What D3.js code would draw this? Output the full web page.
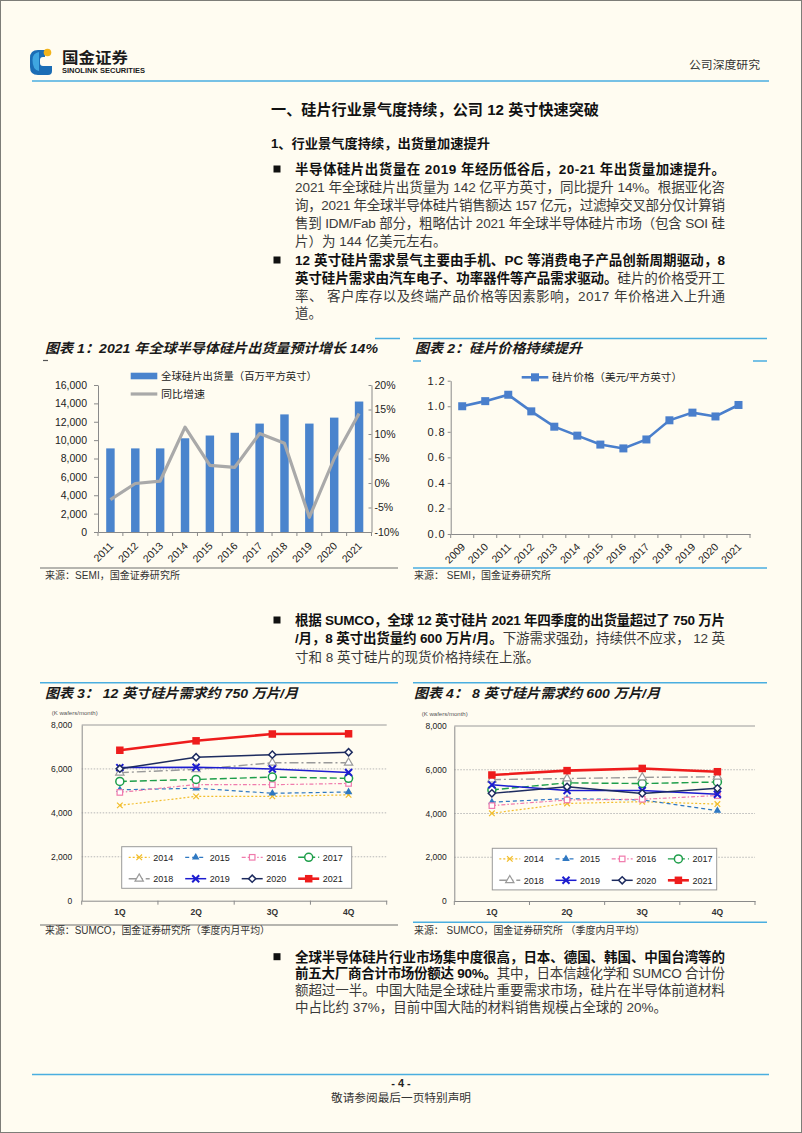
<!DOCTYPE html>
<html><head><meta charset="utf-8">
<script src="https://cdn.jsdelivr.net/npm/d3@7"></script>
<style>
body{margin:0;background:#fffcf1;}
svg{display:block;}
text{font-family:"Liberation Sans","Noto Sans CJK SC",sans-serif;}
</style></head><body>
<svg id="page" width="802" height="1133"></svg>
<script>
// ---------------- DATA ----------------
const years1 = ["2011","2012","2013","2014","2015","2016","2017","2018","2019","2020","2021"];
const shipments = [9100,9100,9100,10200,10500,10800,11800,12800,11800,12450,14200];
const growthPct = [-3.4,-0.1,0.4,11.4,3.6,3.2,10.1,8.1,-7.0,5.0,14.2];
const leftTicks1 = [0,2000,4000,6000,8000,10000,12000,14000,16000];
const rightTicks1 = [-10,-5,0,5,10,15,20];

const years2 = ["2009","2010","2011","2012","2013","2014","2015","2016","2017","2018","2019","2020","2021"];
const price = [1.00,1.04,1.09,0.96,0.84,0.77,0.70,0.67,0.74,0.89,0.95,0.92,1.01];
const priceTicks = [0,0.2,0.4,0.6,0.8,1.0,1.2];

const quarters = ["1Q","2Q","3Q","4Q"];
const seriesYears = ["2014","2015","2016","2017","2018","2019","2020","2021"];
const demandTicks = [0,2000,4000,6000,8000];
// 12-inch (K wafers/month)
const w12_2014 = [4340,4750,4750,4820];
const w12_2015 = [5050,5120,4890,4950];
const w12_2016 = [4930,5290,5280,5340];
const w12_2017 = [5430,5520,5630,5570];
const w12_2018 = [5830,5980,6280,6280];
const w12_2019 = [6060,6080,6000,5840];
const w12_2020 = [6010,6530,6650,6760];
const w12_2021 = [6850,7280,7590,7600];
// 8-inch (K wafers/month)
const w8_2014 = [4010,4460,4540,4430];
const w8_2015 = [4520,4680,4620,4130];
const w8_2016 = [4360,4620,4650,4820];
const w8_2017 = [5080,5400,5370,5440];
const w8_2018 = [5550,5600,5650,5680];
const w8_2019 = [5310,5050,5050,4880];
const w8_2020 = [4920,5220,4920,5150];
const w8_2021 = [5760,5960,6060,5910];

// ---------------- PAGE ----------------
const svg = d3.select("#page");
const W = 802, H = 1133;
const CREAM = "#fffcf1", RULE = "#4aaee0";
svg.append("rect").attr("width", W).attr("height", H).attr("fill", CREAM);
svg.append("rect").attr("x", 0.5).attr("y", 0.5).attr("width", W - 1).attr("height", H - 1)
  .attr("fill", "none").attr("stroke", "#7d7d78");

function hline(x1, x2, y, color, w) {
  svg.append("line").attr("x1", x1).attr("x2", x2).attr("y1", y).attr("y2", y)
    .attr("stroke", color).attr("stroke-width", w || 1.5);
}
function txt(x, y, s, o) {
  o = o || {};
  const t = svg.append("text").attr("x", x).attr("y", y).text(s)
    .attr("font-size", o.size || 12).attr("fill", o.fill || "#222");
  if (o.weight) t.attr("font-weight", o.weight);
  if (o.style) t.attr("font-style", o.style);
  if (o.anchor) t.attr("text-anchor", o.anchor);
  if (o.len) t.attr("textLength", o.len).attr("lengthAdjust", "spacingAndGlyphs");
  return t;
}

// header
const lg = svg.append("g");
lg.append("path").attr("d", "M45,50 L38,50 Q30,50 30,58 L30,67 Q30,75 38,75 L48,75 Q52,75 52,71 L52,66 L43,66 Q40,66 40,63 L40,60 Q40,57 43,57 L45,57 Z")
  .attr("fill", "#1b6db5");
lg.append("path").attr("d", "M32.5,60 Q32.5,53 39,52 L39,71 Q32.5,70 32.5,60 Z").attr("fill", "#3fa6e0");
lg.append("circle").attr("cx", 47.5).attr("cy", 52.5).attr("r", 3.8).attr("fill", "#f2b31a");
txt(62, 63, "国金证券", {size: 15, weight: "bold", fill: "#1a1a1a", len: 66});
txt(62, 72.5, "SINOLINK SECURITIES", {size: 7, weight: "bold", fill: "#1a1a1a", len: 83});
txt(760, 69, "公司深度研究", {size: 11.5, fill: "#333", anchor: "end", len: 71});
hline(32, 769, 81, RULE, 1.6);

// footer
hline(32, 769, 1074.5, RULE, 1.6);
txt(401, 1087, "- 4 -", {size: 11, weight: "bold", fill: "#222", anchor: "middle"});
txt(401, 1102, "敬请参阅最后一页特别声明", {size: 11, fill: "#333", anchor: "middle", len: 140});

// headings
txt(271, 115, "一、硅片行业景气度持续，公司 12 英寸快速突破", {size: 15, weight: "bold", fill: "#111", len: 328});
txt(271, 147.5, "1、行业景气度持续，出货量加速提升", {size: 13, weight: "bold", fill: "#111", len: 219});

// paragraphs
function para(x, firstBase, step, lines) {
  const bx = 273.5;
  svg.append("rect").attr("x", bx).attr("y", firstBase - 8.5).attr("width", 7).attr("height", 7).attr("fill", "#111");
  lines.forEach((ln, i) => {
    const t = svg.append("text").attr("x", x).attr("y", firstBase + i * step).attr("font-size", 13.5);
    ln.segs.forEach(([s, b]) => t.append("tspan").text(s)
      .attr("font-weight", b ? "bold" : "normal").attr("fill", b ? "#111" : "#3a3a3a"));
    if (ln.j) t.attr("textLength", 430).attr("lengthAdjust", "spacing");
  });
}
para(295, 174, 17.9, [
  {segs: [["半导体硅片出货量在 2019 年经历低谷后，20-21 年出货量加速提升。", 1]], j: 1},
  {segs: [["2021 年全球硅片出货量为 142 亿平方英寸，同比提升 14%。根据亚化咨", 0]], j: 1},
  {segs: [["询，2021 年全球半导体硅片销售额达 157 亿元，过滤掉交叉部分仅计算销", 0]], j: 1},
  {segs: [["售到 IDM/Fab 部分，粗略估计 2021 年全球半导体硅片市场（包含 SOI 硅", 0]], j: 1},
  {segs: [["片）为 144 亿美元左右。", 0]]}
]);
para(295, 265, 17.8, [
  {segs: [["12 英寸硅片需求景气主要由手机、PC 等消费电子产品创新周期驱动，8", 1]], j: 1},
  {segs: [["英寸硅片需求由汽车电子、功率器件等产品需求驱动。", 1], ["硅片的价格受开工", 0]], j: 1},
  {segs: [["率、 客户库存以及终端产品价格等因素影响，2017 年价格进入上升通", 0]], j: 1},
  {segs: [["道。", 0]]}
]);
para(295, 625, 18.3, [
  {segs: [["根据 SUMCO，全球 12 英寸硅片 2021 年四季度的出货量超过了 750 万片", 1]], j: 1},
  {segs: [["/月，8 英寸出货量约 600 万片/月。", 1], ["下游需求强劲，持续供不应求， 12 英", 0]], j: 1},
  {segs: [["寸和 8 英寸硅片的现货价格持续在上涨。", 0]]}
]);
para(295, 961.7, 16.7, [
  {segs: [["全球半导体硅片行业市场集中度很高，日本、德国、韩国、中国台湾等的", 1]], j: 1},
  {segs: [["前五大厂商合计市场份额达 90%。", 1], ["其中，日本信越化学和 SUMCO 合计份", 0]], j: 1},
  {segs: [["额超过一半。中国大陆是全球硅片重要需求市场，硅片在半导体前道材料", 0]], j: 1},
  {segs: [["中占比约 37%，目前中国大陆的材料销售规模占全球的 20%。", 0]]}
]);

// chart frames
const titleOpt = {size: 13.5, weight: "bold", style: "italic", fill: "#1a1a1a"};
hline(375, 400, 338.5, RULE, 1.5);
txt(45, 353, "图表 1：2021 年全球半导体硅片出货量预计增长 14%", Object.assign({len: 333}, titleOpt));
hline(43, 48, 360.5, "#555", 1.2);
hline(413, 767, 338.5, RULE, 1.5);
txt(415, 353, "图表 2：硅片价格持续提升", Object.assign({len: 167}, titleOpt));
hline(413, 421, 361, RULE, 1.5);
hline(753, 767, 361, RULE, 1.5);
hline(40, 398, 568, "#6e6e6e", 1.2);
txt(45, 578.5, "来源：SEMI，国金证券研究所", {size: 10, fill: "#333", len: 135});
hline(413, 767, 568, RULE, 1.5);
txt(414, 578.5, "来源： SEMI，国金证券研究所", {size: 10, fill: "#333", len: 137});

hline(40, 398, 682.7, RULE, 1.5);
txt(45, 697.5, "图表 3： 12 英寸硅片需求约 750 万片/月", Object.assign({len: 253}, titleOpt));
hline(413, 767, 682.7, RULE, 1.5);
txt(414, 697.5, "图表 4： 8 英寸硅片需求约 600 万片/月", Object.assign({len: 246}, titleOpt));
hline(40, 398, 925, "#6e6e6e", 1.2);
txt(45, 933.5, "来源：SUMCO，国金证券研究所（季度内月平均）", {size: 10, fill: "#333", len: 225});
hline(413, 767, 922.3, RULE, 1.5);
txt(414, 933.5, "来源： SUMCO，国金证券研究所 （季度内月平均）", {size: 10, fill: "#333", len: 231});

function styleAxis(g, size) {
  g.selectAll(".domain").attr("stroke", "#8a8a8a");
  g.selectAll(".tick line").attr("stroke", "#8a8a8a");
  g.selectAll("text").attr("fill", "#222").attr("font-size", size)
    .attr("font-family", "'Liberation Sans','Noto Sans CJK SC',sans-serif");
}

// ---------------- CHART 1 ----------------
(function () {
  const L = 98, R = 371.5, T = 385, B = 532;
  const x = d3.scaleBand().domain(years1).range([L, R]).padding(0);
  const yL = d3.scaleLinear().domain([0, 16000]).range([B, T]);
  const yR = d3.scaleLinear().domain([-10, 20]).range([B, T]);
  const g = svg.append("g");
  const bw = x.bandwidth();
  g.selectAll("rect.bar").data(years1).enter().append("rect")
    .attr("x", d => x(d) + bw * 0.33).attr("width", bw * 0.34)
    .attr("y", (d, i) => yL(shipments[i])).attr("height", (d, i) => B - yL(shipments[i]))
    .attr("fill", "#4a84cd");
  const line = d3.line().x((d, i) => x(years1[i]) + bw / 2).y(d => yR(d));
  g.append("path").attr("d", line(growthPct)).attr("fill", "none")
    .attr("stroke", "#a9a9a9").attr("stroke-width", 3.2).attr("stroke-linejoin", "round");
  const ax = g.append("g").attr("transform", `translate(${L},0)`)
    .call(d3.axisLeft(yL).tickValues(leftTicks1).tickFormat(d3.format(",")).tickSizeInner(4).tickSizeOuter(0).tickPadding(7));
  styleAxis(ax, 10.5);
  const ar = g.append("g").attr("transform", `translate(${R},0)`)
    .call(d3.axisRight(yR).tickValues(rightTicks1).tickFormat(d => d + "%").tickSizeInner(-3).tickSizeOuter(0).tickPadding(3));
  styleAxis(ar, 10.5);
  const ab = g.append("g").attr("transform", `translate(0,${B})`)
    .call(d3.axisBottom(x).tickSize(0).tickPadding(0));
  styleAxis(ab, 10.5);
  ab.selectAll(".tick text").attr("y", 0).attr("dy", "0.35em")
    .attr("text-anchor", "end").attr("transform", "translate(1,12) rotate(-45)");
  const bounds = years1.map(d => x(d)).concat([R]);
  g.selectAll("line.bt").data(bounds).enter().append("line")
    .attr("x1", d => d).attr("x2", d => d).attr("y1", B).attr("y2", B + 4).attr("stroke", "#8a8a8a");
  // legend
  g.append("rect").attr("x", 130.7).attr("y", 372.7).attr("width", 26.6).attr("height", 6.6).attr("fill", "#4a84cd");
  txt(161, 380, "全球硅片出货量（百万平方英寸）", {size: 10.5, fill: "#222", len: 156});
  g.append("line").attr("x1", 130.7).attr("x2", 157.3).attr("y1", 394).attr("y2", 394)
    .attr("stroke", "#a9a9a9").attr("stroke-width", 3.2);
  txt(161, 398, "同比增速", {size: 10.5, fill: "#222", len: 44});
})();

// ---------------- CHART 2 ----------------
(function () {
  const L = 450.7, R = 750, T = 380.7, B = 534;
  const x = d3.scaleBand().domain(years2).range([L, R]).padding(0);
  const y = d3.scaleLinear().domain([0, 1.2]).range([B, T]);
  const g = svg.append("g");
  const bw = x.bandwidth();
  const ay = g.append("g").attr("transform", `translate(${L},0)`)
    .call(d3.axisLeft(y).tickValues(priceTicks).tickFormat(d3.format(".1f")).tickSizeInner(3).tickSizeOuter(0).tickPadding(2));
  styleAxis(ay, 11);
  ay.selectAll(".tick text").attr("letter-spacing", "1px");
  const ab = g.append("g").attr("transform", `translate(0,${B})`)
    .call(d3.axisBottom(x).tickSize(0).tickPadding(0));
  styleAxis(ab, 10.5);
  ab.selectAll(".tick text").attr("y", 0).attr("dy", "0.35em")
    .attr("text-anchor", "end").attr("transform", "translate(1,11) rotate(-45)");
  const bounds = years2.map(d => x(d)).concat([R]);
  g.selectAll("line.bt").data(bounds).enter().append("line")
    .attr("x1", d => d).attr("x2", d => d).attr("y1", B).attr("y2", B + 4).attr("stroke", "#8a8a8a");
  const line = d3.line().x((d, i) => x(years2[i]) + bw / 2).y(d => y(d));
  g.append("path").attr("d", line(price)).attr("fill", "none").attr("stroke", "#4a7fcc").attr("stroke-width", 2.6);
  g.selectAll("rect.m").data(price).enter().append("rect")
    .attr("x", (d, i) => x(years2[i]) + bw / 2 - 4).attr("y", d => y(d) - 4)
    .attr("width", 8).attr("height", 8).attr("fill", "#4a7fcc");
  g.append("line").attr("x1", 521.7).attr("x2", 548.3).attr("y1", 377.3).attr("y2", 377.3)
    .attr("stroke", "#4a7fcc").attr("stroke-width", 2.6);
  g.append("rect").attr("x", 531).attr("y", 373.3).attr("width", 8).attr("height", 8).attr("fill", "#4a7fcc");
  txt(552, 381, "硅片价格（美元/平方英寸）", {size: 10.5, fill: "#222", len: 130});
})();

// ---------------- CHARTS 3 & 4 ----------------
const styles = {
  "2014": {c: "#f2bd2a", dash: "2,2", w: 1.2, m: "x", ms: 2.8},
  "2015": {c: "#2f78c2", dash: "4,3", w: 1.2, m: "tri", fill: true, ms: 13},
  "2016": {c: "#f07aac", dash: "4,2,1.5,2", w: 1.2, m: "sq", ms: 5.5},
  "2017": {c: "#1e9e4a", dash: "7,3", w: 1.4, m: "circ", ms: 4},
  "2018": {c: "#9a9a9a", dash: "9,3,2,3", w: 1.4, m: "tri", fill: false, ms: 30},
  "2019": {c: "#1c1cd0", dash: null, w: 1.5, m: "x", ms: 3.5, mw: 2},
  "2020": {c: "#1d2b5f", dash: null, w: 1.5, m: "dia", ms: 26},
  "2021": {c: "#ee1c1c", dash: null, w: 2.6, m: "fsq", ms: 7.5}
};
function marker(g, cx, cy, st) {
  if (st.m === "x") {
    g.append("path").attr("d", `M${cx - st.ms},${cy - st.ms}L${cx + st.ms},${cy + st.ms}M${cx - st.ms},${cy + st.ms}L${cx + st.ms},${cy - st.ms}`)
      .attr("stroke", st.c).attr("stroke-width", st.mw || 1.2);
  } else if (st.m === "tri") {
    g.append("path").attr("d", d3.symbol(d3.symbolTriangle, st.ms)()).attr("transform", `translate(${cx},${cy})`)
      .attr("fill", st.fill ? st.c : "#fff").attr("stroke", st.c).attr("stroke-width", 1.2);
  } else if (st.m === "sq") {
    g.append("rect").attr("x", cx - st.ms / 2).attr("y", cy - st.ms / 2).attr("width", st.ms).attr("height", st.ms)
      .attr("fill", "#fff").attr("stroke", st.c).attr("stroke-width", 1.2);
  } else if (st.m === "circ") {
    g.append("circle").attr("cx", cx).attr("cy", cy).attr("r", st.ms).attr("fill", "#fff").attr("stroke", st.c).attr("stroke-width", 1.5);
  } else if (st.m === "dia") {
    g.append("path").attr("d", d3.symbol(d3.symbolSquare, st.ms)()).attr("transform", `translate(${cx},${cy}) rotate(45)`)
      .attr("fill", "#fff").attr("stroke", st.c).attr("stroke-width", 1.5);
  } else if (st.m === "fsq") {
    g.append("rect").attr("x", cx - st.ms / 2).attr("y", cy - st.ms / 2).attr("width", st.ms).attr("height", st.ms).attr("fill", st.c);
  }
}
function demandChart(o, seriesData) {
  const {L, R, T, B} = o;
  const g = svg.append("g");
  const x = d3.scaleBand().domain(quarters).range([L, R]).padding(0);
  const y = d3.scaleLinear().domain([0, 8000]).range([B, T]);
  const bw = x.bandwidth();
  txt(o.unitX, o.unitY, "(K wafers/month)", {size: 5.8, fill: "#555", len: 46});
  // grid
  g.selectAll("line.grid").data(demandTicks.filter(d => d > 0 && d < 8000)).enter().append("line")
    .attr("x1", L).attr("x2", R).attr("y1", d => y(d)).attr("y2", d => y(d))
    .attr("stroke", "#b8b8b8").attr("stroke-dasharray", "1.5,1.5");
  g.append("line").attr("x1", L).attr("x2", R).attr("y1", y(8000)).attr("y2", y(8000)).attr("stroke", "#9a9a9a");
  const ay = g.append("g").attr("transform", `translate(${L},0)`)
    .call(d3.axisLeft(y).tickValues(demandTicks).tickFormat(d3.format(",")).tickSize(0).tickPadding(o.pad));
  styleAxis(ay, 8.5);
  const ab = g.append("g").attr("transform", `translate(0,${B})`)
    .call(d3.axisBottom(x).tickSize(0).tickPadding(8));
  styleAxis(ab, 8.5);
  ab.selectAll("text").attr("font-weight", "bold").attr("fill", "#333");
  const bounds = quarters.map(d => x(d)).concat([R]);
  g.selectAll("line.bt").data(bounds).enter().append("line")
    .attr("x1", d => d).attr("x2", d => d).attr("y1", B).attr("y2", B + 4).attr("stroke", "#8a8a8a");
  const line = d3.line().x((d, i) => x(quarters[i]) + bw / 2).y(d => y(d));
  seriesYears.forEach((yr, si) => {
    const st = styles[yr];
    const p = g.append("path").attr("d", line(seriesData[si])).attr("fill", "none")
      .attr("stroke", st.c).attr("stroke-width", st.w);
    if (st.dash) p.attr("stroke-dasharray", st.dash);
    seriesData[si].forEach((v, i) => marker(g, x(quarters[i]) + bw / 2, y(v), st));
  });
  // legend
  g.append("rect").attr("x", o.lgX).attr("y", o.lgY).attr("width", o.lgW).attr("height", 41.6)
    .attr("fill", "#fff").attr("stroke", "#9a9a9a").attr("stroke-width", 1);
  seriesYears.forEach((yr, i) => {
    const st = styles[yr];
    const col = i % 4, row = Math.floor(i / 4);
    const lx = o.lgX + 7 + col * o.lgStep, ly = o.lgY + 10.6 + row * 21.4;
    const l = g.append("line").attr("x1", lx).attr("x2", lx + 21).attr("y1", ly).attr("y2", ly)
      .attr("stroke", st.c).attr("stroke-width", st.w);
    if (st.dash) l.attr("stroke-dasharray", st.dash);
    marker(g, lx + 10.5, ly, st);
    txt(lx + 24.5, ly + 3.3, yr, {size: 9, fill: "#222"});
  });
}
demandChart({L: 81.7, R: 386.7, T: 725, B: 900.7, pad: 9.4, unitX: 51.7, unitY: 715,
  lgX: 121.7, lgY: 846.7, lgW: 230, lgStep: 56.5},
  [w12_2014, w12_2015, w12_2016, w12_2017, w12_2018, w12_2019, w12_2020, w12_2021]);
demandChart({L: 454.3, R: 755, T: 726, B: 901, pad: 7.6, unitX: 421.7, unitY: 715.5,
  lgX: 492.3, lgY: 848.3, lgW: 224.4, lgStep: 56.2},
  [w8_2014, w8_2015, w8_2016, w8_2017, w8_2018, w8_2019, w8_2020, w8_2021]);
</script>
</body></html>
